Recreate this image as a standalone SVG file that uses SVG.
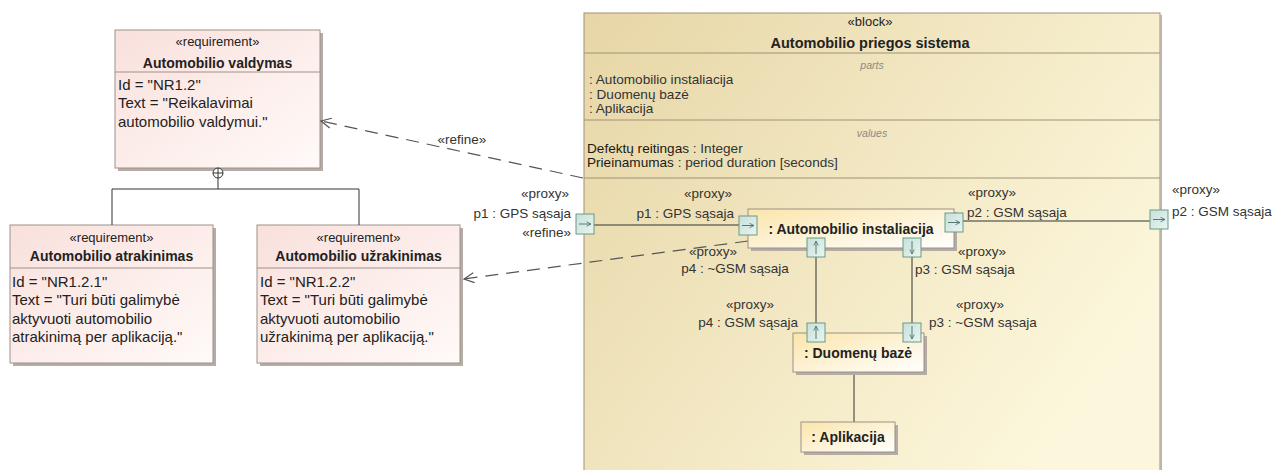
<svg xmlns="http://www.w3.org/2000/svg" width="1273" height="470" viewBox="0 0 1273 470">
<defs>
<linearGradient id="gReq" x1="0" y1="0" x2="1" y2="1">
<stop offset="0" stop-color="#f9e0dc"/>
<stop offset="1" stop-color="#fffaf8"/>
</linearGradient>
<linearGradient id="gBlock" x1="0" y1="0" x2="1" y2="0.6">
<stop offset="0" stop-color="#e7d6a6"/>
<stop offset="1" stop-color="#fcf7dc"/>
</linearGradient>
<linearGradient id="gPart" x1="0" y1="0" x2="1" y2="1">
<stop offset="0" stop-color="#fbe5ab"/>
<stop offset="1" stop-color="#ffffff"/>
</linearGradient>
<linearGradient id="gPort" x1="0" y1="0" x2="1" y2="1">
<stop offset="0" stop-color="#c6e0da"/>
<stop offset="1" stop-color="#eaf5f1"/>
</linearGradient>
<marker id="open" viewBox="0 0 12 12" refX="11" refY="6" markerWidth="12" markerHeight="12" markerUnits="userSpaceOnUse" orient="auto">
<path d="M1,1 L11,6 L1,11" fill="none" stroke="#555" stroke-width="1.2"/>
</marker>
<marker id="pa" viewBox="0 0 8 8" refX="7" refY="4" markerWidth="6" markerHeight="6" markerUnits="userSpaceOnUse" orient="auto">
<path d="M1,1 L7,4 L1,7" fill="none" stroke="#557a70" stroke-width="1.2"/>
</marker>
</defs>
<style>
text{font-family:"Liberation Sans",Arial,sans-serif;fill:#222}
.st{font-size:13px}
.nm{font-size:14px;font-weight:bold}
.bnm{font-size:14.5px;font-weight:bold}
.bd{font-size:15px}
.sm{font-size:13.6px;fill:#333}
.cp{font-size:10.5px;font-style:italic;fill:#8a8a8a}
.pl{font-size:13.5px;fill:#333}
.mid{text-anchor:middle}
.end{text-anchor:end}
.req{fill:url(#gReq);stroke:#9e928c;stroke-width:1}
.sh{fill:#b5ada5}
.part{fill:url(#gPart);stroke:#9c9283;stroke-width:1}
.port{fill:url(#gPort);stroke:#6a9a88;stroke-width:1}
.pa{stroke:#557a70;stroke-width:1;fill:none;marker-end:url(#pa)}
.ln{stroke:#333;stroke-width:1;fill:none}
.dep{stroke:#555;stroke-width:1.2;fill:none;stroke-dasharray:13 8;marker-end:url(#open)}
</style>

<g id="block-automobilio-priegos-sistema">
<rect x="584" y="13" width="576" height="470" fill="url(#gBlock)" stroke="#9f9276" stroke-width="1"/>
<rect x="1160" y="15" width="2" height="470" fill="#bdb5a8"/>
<line x1="584" y1="53" x2="1160" y2="53" stroke="#9f9276"/>
<line x1="584" y1="120" x2="1160" y2="120" stroke="#9f9276"/>
<line x1="584" y1="178" x2="1160" y2="178" stroke="#9f9276"/>
<text x="870" y="26" class="st mid">«block»</text>
<text x="870" y="48" class="bnm mid">Automobilio priegos sistema</text>
<text x="872" y="69" class="cp mid">parts</text>
<text x="589" y="84" class="sm">: Automobilio instaliacija</text>
<text x="589" y="99" class="sm">: Duomenų bazė</text>
<text x="589" y="113" class="sm">: Aplikacija</text>
<text x="872" y="137" class="cp mid">values</text>
<text x="587" y="153" class="sm"><tspan fill="#1a1a1a">Defektų reitingas</tspan> : Integer</text>
<text x="587" y="167" class="sm"><tspan fill="#1a1a1a">Prieinamumas</tspan> : period duration [seconds]</text>
</g>

<g id="req-automobilio-valdymas">
<rect x="118" y="33" width="205" height="138" class="sh"/>
<rect x="115" y="30" width="205" height="138" class="req"/>
<line x1="115" y1="72" x2="320" y2="72" stroke="#9e928c"/>
<text x="217.5" y="46" class="st mid">«requirement»</text>
<text x="217.5" y="68" class="nm mid">Automobilio valdymas</text>
<text x="118" y="90" class="bd">Id = "NR1.2"</text>
<text x="118" y="108" class="bd">Text = "Reikalavimai</text>
<text x="118" y="127" class="bd">automobilio valdymui."</text>
</g>

<g id="req-automobilio-atrakinimas">
<rect x="13" y="228" width="203" height="138" class="sh"/>
<rect x="10" y="225" width="203" height="138" class="req"/>
<line x1="10" y1="268" x2="213" y2="268" stroke="#9e928c"/>
<text x="111.5" y="242" class="st mid">«requirement»</text>
<text x="111.5" y="261" class="nm mid">Automobilio atrakinimas</text>
<text x="12" y="287" class="bd">Id = "NR1.2.1"</text>
<text x="12" y="305" class="bd">Text = "Turi būti galimybė</text>
<text x="12" y="324" class="bd">aktyvuoti automobilio</text>
<text x="12" y="342" class="bd">atrakinimą per aplikaciją."</text>
</g>

<g id="req-automobilio-uzrakinimas">
<rect x="260" y="228" width="203" height="138" class="sh"/>
<rect x="257" y="225" width="203" height="138" class="req"/>
<line x1="257" y1="268" x2="460" y2="268" stroke="#9e928c"/>
<text x="358.5" y="242" class="st mid">«requirement»</text>
<text x="358.5" y="261" class="nm mid">Automobilio užrakinimas</text>
<text x="260" y="287" class="bd">Id = "NR1.2.2"</text>
<text x="260" y="305" class="bd">Text = "Turi būti galimybė</text>
<text x="260" y="324" class="bd">aktyvuoti automobilio</text>
<text x="260" y="342" class="bd">užrakinimą per aplikaciją."</text>
</g>

<g id="connectors">
<circle cx="218" cy="173" r="5" fill="#fff" stroke="#333"/>
<line x1="213" y1="173" x2="223" y2="173" class="ln"/>
<line x1="218" y1="168" x2="218" y2="178" class="ln"/>
<path d="M218,178 V189 M112,225 V189 H359 V225" class="ln"/>
<line x1="594" y1="225" x2="739" y2="225" class="ln"/>
<line x1="963" y1="221" x2="1150" y2="221" class="ln"/>
<line x1="816" y1="257" x2="816" y2="323" class="ln"/>
<line x1="912" y1="257" x2="912" y2="323" class="ln"/>
<line x1="854" y1="372" x2="854" y2="422" class="ln"/>
<path d="M583,178 L321,121" class="dep"/>
<path d="M748,241 L464,279" class="dep"/>
<text x="462" y="144" class="pl mid">«refine»</text>
<text x="571" y="237" class="pl end">«refine»</text>
</g>

<g id="part-automobilio-instaliacija">
<rect x="751" y="212" width="206" height="39" class="sh"/>
<rect x="748" y="209" width="206" height="39" class="part"/>
<text x="851" y="234" class="nm mid">: Automobilio instaliacija</text>
</g>

<g id="part-duomenu-baze">
<rect x="796" y="336" width="131" height="39" class="sh"/>
<rect x="793" y="333" width="131" height="39" class="part"/>
<text x="858" y="358" class="nm mid">: Duomenų bazė</text>
</g>

<g id="part-aplikacija">
<rect x="804" y="425" width="94" height="30" class="sh"/>
<rect x="801" y="422" width="94" height="30" class="part"/>
<text x="848" y="442" class="nm mid">: Aplikacija</text>
</g>

<g id="port-p1-outer">
<rect x="576" y="214" width="18" height="20" class="port"/>
<line x1="579" y1="224" x2="591" y2="224" class="pa"/>
<text x="545" y="198" class="pl mid">«proxy»</text>
<text x="571" y="218" class="pl end">p1 : GPS sąsaja</text>
</g>

<g id="port-p1-inner">
<rect x="739" y="216" width="18" height="19" class="port"/>
<line x1="742" y1="225.5" x2="754" y2="225.5" class="pa"/>
<text x="708" y="198" class="pl mid">«proxy»</text>
<text x="734" y="218" class="pl end">p1 : GPS sąsaja</text>
</g>

<g id="port-p2-inner">
<rect x="945" y="213" width="18" height="19" class="port"/>
<line x1="948" y1="222.5" x2="960" y2="222.5" class="pa"/>
<text x="992" y="197" class="pl mid">«proxy»</text>
<text x="967" y="217" class="pl">p2 : GSM sąsaja</text>
</g>

<g id="port-p2-outer">
<rect x="1150" y="210" width="18" height="19" class="port"/>
<line x1="1153" y1="219.5" x2="1165" y2="219.5" class="pa"/>
<text x="1172" y="194" class="pl">«proxy»</text>
<text x="1172" y="216" class="pl">p2 : GSM sąsaja</text>
</g>

<g id="port-p4-inst">
<rect x="807" y="238" width="18" height="19" class="port"/>
<line x1="816" y1="254" x2="816" y2="241" class="pa"/>
<text x="713" y="256" class="pl mid">«proxy»</text>
<text x="735" y="273" class="pl mid">p4 : ~GSM sąsaja</text>
</g>

<g id="port-p3-inst">
<rect x="903" y="238" width="18" height="19" class="port"/>
<line x1="912" y1="241" x2="912" y2="254" class="pa"/>
<text x="982" y="256" class="pl mid">«proxy»</text>
<text x="915" y="274" class="pl">p3 : GSM sąsaja</text>
</g>

<g id="port-p4-db">
<rect x="807" y="323" width="18" height="19" class="port"/>
<line x1="816" y1="339" x2="816" y2="326" class="pa"/>
<text x="750" y="309" class="pl mid">«proxy»</text>
<text x="798" y="327" class="pl end">p4 : GSM sąsaja</text>
</g>

<g id="port-p3-db">
<rect x="903" y="323" width="18" height="19" class="port"/>
<line x1="912" y1="326" x2="912" y2="339" class="pa"/>
<text x="980" y="309" class="pl mid">«proxy»</text>
<text x="929" y="327" class="pl">p3 : ~GSM sąsaja</text>
</g>
</svg>
